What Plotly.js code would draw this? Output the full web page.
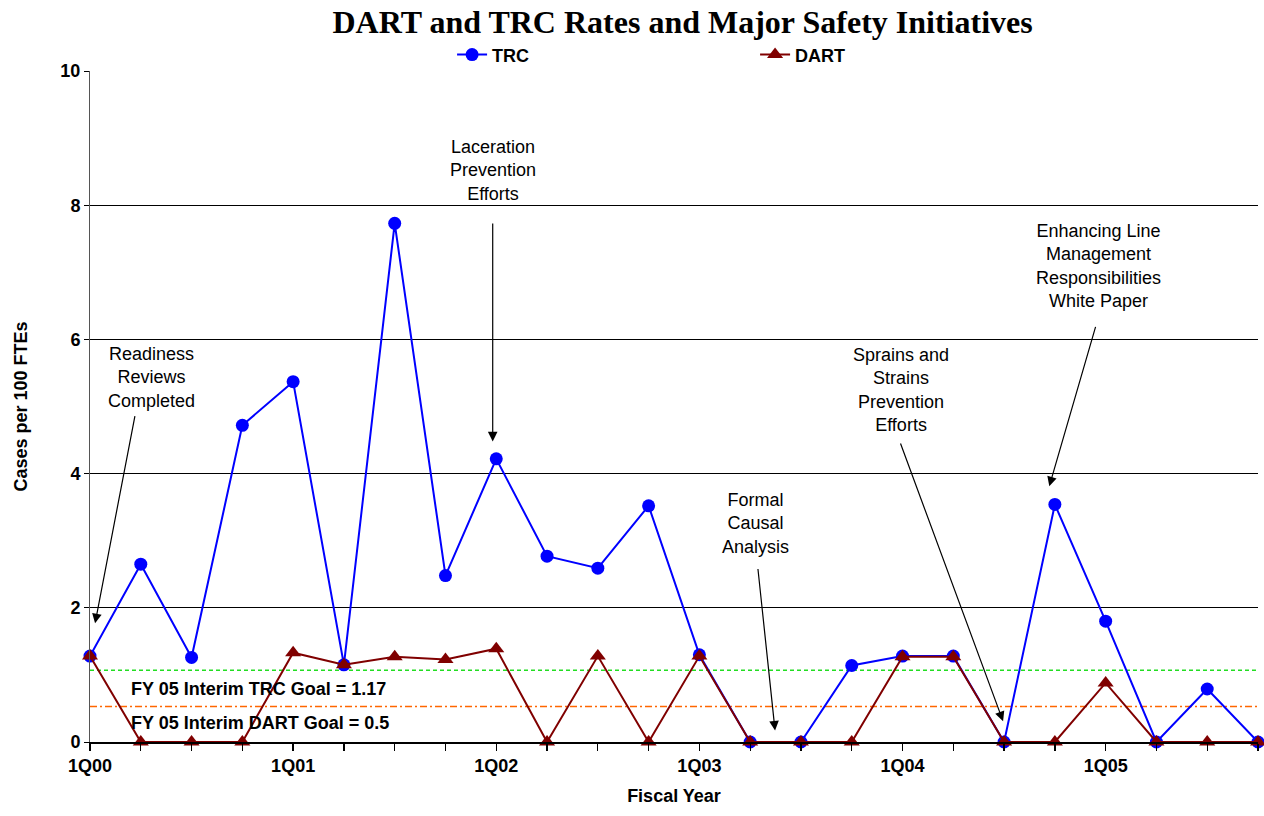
<!DOCTYPE html>
<html>
<head>
<meta charset="utf-8">
<script src="https://cdn.plot.ly/plotly-3.0.1.min.js"></script>
<style>html,body{margin:0;padding:0;background:#fff;}#chart{width:1264px;height:816px;}</style>
</head>
<body>
<div id="chart"></div>
<script>
const quarters = ['1Q00','2Q00','3Q00','4Q00','1Q01','2Q01','3Q01','4Q01','1Q02','2Q02','3Q02','4Q02',
                  '1Q03','2Q03','3Q03','4Q03','1Q04','2Q04','3Q04','4Q04','1Q05','2Q05','3Q05','4Q05'];
const trc  = [1.28, 2.65, 1.26, 4.72, 5.37, 1.15, 7.73, 2.48, 4.22, 2.77, 2.59, 3.52,
              1.30, 0, 0, 1.14, 1.28, 1.28, 0, 3.54, 1.80, 0, 0.79, 0];
const dart = [1.28, 0, 0, 0, 1.33, 1.15, 1.27, 1.23, 1.39, 0, 1.28, 0,
              1.28, 0, 0, 0, 1.27, 1.27, 0, 0, 0.88, 0, 0, 0];
const trcGoalLine = 1.07;
const dartGoalLine = 0.53;
const trcGoalLabel = 'FY 05 Interim TRC Goal = 1.17';
const dartGoalLabel = 'FY 05 Interim DART Goal = 0.5';
const initiatives = [
  {text:'Readiness<br>Reviews<br>Completed', tx:1.22, ty:5.43, ax:0.89, ay:4.88, hx:0.10, hy:1.77},
  {text:'Laceration<br>Prevention<br>Efforts', tx:7.94, ty:8.52, ax:7.93, ay:7.75, hx:7.93, hy:4.48},
  {text:'Formal<br>Causal<br>Analysis', tx:13.1, ty:3.26, ax:13.15, ay:2.60, hx:13.49, hy:0.17},
  {text:'Sprains and<br>Strains<br>Prevention<br>Efforts', tx:15.97, ty:5.25, ax:15.95, ay:4.47, hx:17.98, hy:0.31},
  {text:'Enhancing Line<br>Management<br>Responsibilities<br>White Paper', tx:19.85, ty:7.09, ax:19.81, ay:6.21, hx:18.89, hy:3.81}
];

const idx = quarters.map((q, i) => i);
const sans = 'Liberation Sans, Arial, sans-serif';
const boldFont = {family: sans, size: 18, color: '#000', weight: 'bold'};

const traces = [
  {x: idx, y: trc, name: 'TRC', type: 'scatter', mode: 'lines+markers', cliponaxis: false,
   line: {color: '#0000ff', width: 2}, marker: {color: '#0000ff', size: 13, symbol: 'circle'}},
  {x: idx, y: dart, name: 'DART', type: 'scatter', mode: 'lines+markers', cliponaxis: false,
   line: {color: '#800000', width: 2}, marker: {color: '#800000', size: 14, symbol: 'triangle-up'}}
];

const annotations = [];
initiatives.forEach(a => {
  annotations.push({x: a.tx, y: a.ty, xref: 'x', yref: 'y', text: a.text, showarrow: false,
    font: {family: sans, size: 18, color: '#000'}, align: 'center', xanchor: 'center', yanchor: 'middle'});
  annotations.push({x: a.hx, y: a.hy, xref: 'x', yref: 'y', ax: a.ax, ay: a.ay, axref: 'x', ayref: 'y',
    text: '', showarrow: true, arrowhead: 2, arrowsize: 1.6, arrowwidth: 1.2, arrowcolor: '#000', standoff: 0, startstandoff: 0});
});
annotations.push({x: 0.77, y: 0.79, xref: 'x', yref: 'y', text: trcGoalLabel, showarrow: false,
  xanchor: 'left', yanchor: 'middle', font: boldFont});
annotations.push({x: 0.77, y: 0.28, xref: 'x', yref: 'y', text: dartGoalLabel, showarrow: false,
  xanchor: 'left', yanchor: 'middle', font: boldFont});

const layout = {
  width: 1264, height: 816,
  margin: {l: 90, r: 6, t: 71, b: 74},
  paper_bgcolor: '#fff', plot_bgcolor: '#fff',
  title: {text: 'DART and TRC Rates and Major Safety Initiatives', x: 0.54, xanchor: 'center', y: 0.973, yanchor: 'middle',
          font: {family: 'Liberation Serif, Times New Roman, serif', size: 32, color: '#000', weight: 'bold'}},
  showlegend: true,
  legend: {orientation: 'h', x: 0.31, xanchor: 'left', y: 1.024, yanchor: 'middle', font: boldFont,
           entrywidthmode: 'pixels', entrywidth: 258, bgcolor: 'rgba(0,0,0,0)', itemclick: false},
  xaxis: {range: [0, 23], tickmode: 'array', tickvals: idx,
          ticktext: quarters.map(q => q.startsWith('1Q') ? q : ''),
          showgrid: false, zeroline: false, showline: true, linecolor: '#000', linewidth: 1.5,
          ticks: 'outside', ticklen: 7, tickcolor: '#000', tickwidth: 1.3, tickfont: boldFont,
          title: {text: 'Fiscal Year', font: boldFont, standoff: 14}},
  yaxis: {range: [0, 10], tickmode: 'array', tickvals: [0, 2, 4, 6, 8, 10],
          showgrid: true, gridcolor: '#000', gridwidth: 1, zeroline: false,
          showline: true, linecolor: '#555', linewidth: 1,
          ticks: 'outside', ticklen: 5, tickcolor: '#000', tickfont: boldFont,
          title: {text: 'Cases per 100 FTEs', font: boldFont, standoff: 28}},
  shapes: [
    {type: 'line', xref: 'paper', x0: 0, x1: 1, yref: 'y', y0: trcGoalLine, y1: trcGoalLine, layer: 'below',
     line: {color: '#22dd22', width: 1.4, dash: '4px,3px'}},
    {type: 'line', xref: 'paper', x0: 0, x1: 1, yref: 'y', y0: dartGoalLine, y1: dartGoalLine, layer: 'below',
     line: {color: '#ff6600', width: 1.4, dash: '7px,3px,2px,3px'}}
  ],
  annotations: annotations
};

Plotly.newPlot('chart', traces, layout, {displayModeBar: false, staticPlot: true});
</script>
</body>
</html>
